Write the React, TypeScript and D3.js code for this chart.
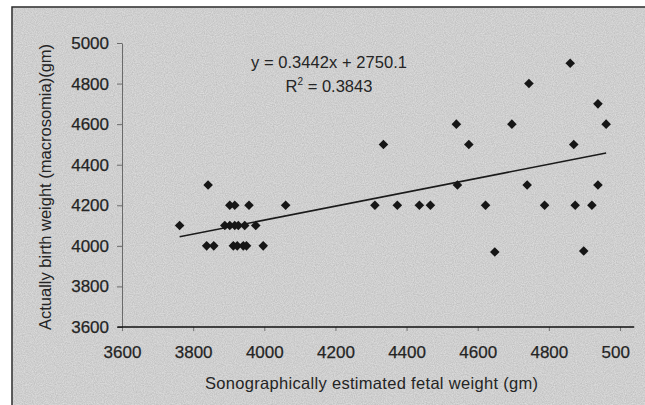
import React, { useEffect, useRef } from 'react';
import * as d3 from 'd3';

// tick values / labels as printed on the chart
const xTicks = [3600, 3800, 4000, 4200, 4400, 4600, 4800, 5000];
const xTickLabels = ['3600', '3800', '4000', '4200', '4400', '4600', '4800', '500'];
const yTicks = [3600, 3800, 4000, 4200, 4400, 4600, 4800, 5000];

const estimatedWeight = [
  3762, 3842, 3838, 3858,
  3903, 3917, 3957, 4060,
  3889, 3903, 3917, 3927, 3945, 3976,
  3913, 3924, 3941, 3950, 3997,
  4311, 4374, 4436, 4467, 4335,
  4540, 4543, 4575, 4622, 4648, 4696, 4744, 4739, 4788,
  4860, 4870, 4874, 4898, 4921, 4938, 4938, 4961,
];
const birthWeight = [
  4100, 4300, 4000, 4000,
  4200, 4200, 4200, 4200,
  4100, 4100, 4100, 4100, 4100, 4100,
  4000, 4000, 4000, 4000, 4000,
  4200, 4200, 4200, 4200, 4500,
  4600, 4300, 4500, 4200, 3970, 4600, 4800, 4300, 4200,
  4900, 4500, 4200, 3975, 4200, 4300, 4700, 4600,
];

const slope = 0.3442;
const intercept = 2750.1;
const equationText = 'y = 0.3442x + 2750.1';
const r2Value = '0.3843';

const W = 645;
const H = 405;
const font = '"Liberation Sans", Arial, sans-serif';
const ink = '#242424';

const App = () => {
  const ref = useRef<SVGSVGElement>(null);

  useEffect(() => {
    const svg = d3.select(ref.current);
    svg.selectAll('*').remove();

    const x = d3.scaleLinear().domain([3600, 5000]).range([122, 620]);
    const y = d3.scaleLinear().domain([3600, 5000]).range([327, 43]);

    // scanned grey panel with a frame
    const defs = svg.append('defs');
    const f = defs.append('filter').attr('id', 'grain').attr('x', 0).attr('y', 0).attr('width', 1).attr('height', 1);
    f.append('feTurbulence').attr('type', 'fractalNoise').attr('baseFrequency', 0.9).attr('numOctaves', 2).attr('seed', 3);
    f.append('feColorMatrix').attr('type', 'matrix')
      .attr('values', '0 0 0 0 0  0 0 0 0 0  0 0 0 0 0  0 0 0 0.18 0');
    f.append('feComposite').attr('in2', 'SourceGraphic').attr('operator', 'in');

    svg.append('rect').attr('width', W).attr('height', H).attr('fill', '#ffffff');
    svg.append('rect')
      .attr('x', 12).attr('y', 7).attr('width', W).attr('height', H)
      .attr('fill', '#e3e3e3').attr('stroke', '#2a2a2a').attr('stroke-width', 1.5);
    svg.append('rect')
      .attr('x', 13).attr('y', 8).attr('width', W).attr('height', H)
      .attr('fill', '#e3e3e3').attr('filter', 'url(#grain)');

    // y axis
    const yAxis = d3.axisLeft(y).tickValues(yTicks).tickSize(5).tickPadding(8).tickSizeOuter(0)
      .tickFormat(d3.format('d'));
    const gy = svg.append('g').attr('transform', `translate(${x(3600)},0)`).call(yAxis);
    gy.select('.domain').attr('stroke', '#6a6a6a').attr('stroke-width', 1);
    gy.selectAll('.tick line').attr('stroke', '#6a6a6a');
    gy.selectAll('.tick text')
      .attr('font-family', font).attr('font-size', 17).attr('fill', ink)
      .attr('stroke', ink).attr('stroke-width', 0.25);

    // x axis
    const xAxis = d3.axisBottom(x).tickValues(xTicks).tickSize(4).tickPadding(15).tickSizeOuter(0)
      .tickFormat((d, i) => xTickLabels[i]);
    const gx = svg.append('g').attr('transform', `translate(0,${y(3600)})`).call(xAxis);
    gx.select('.domain').remove();
    gx.selectAll('.tick line').attr('stroke', '#777');
    gx.selectAll('.tick text')
      .attr('font-family', font).attr('font-size', 17).attr('fill', ink)
      .attr('stroke', ink).attr('stroke-width', 0.25);
    // last label is cut short in the original: keep it where "5000" would start
    gx.selectAll('.tick text').filter((d, i) => i === xTicks.length - 1)
      .attr('text-anchor', 'start').attr('x', -19);
    svg.append('line')
      .attr('x1', x(3587)).attr('x2', x(5040))
      .attr('y1', y(3600)).attr('y2', y(3600))
      .attr('stroke', '#111').attr('stroke-width', 1.6);

    // axis titles
    svg.append('text')
      .attr('x', 205).attr('y', 389)
      .attr('textLength', 333).attr('lengthAdjust', 'spacing')
      .attr('font-family', font).attr('font-size', 16.5).attr('fill', ink)
      .text('Sonographically estimated fetal weight (gm)');
    svg.append('text')
      .attr('transform', 'translate(51,187) rotate(-90)').attr('text-anchor', 'middle')
      .attr('font-family', font).attr('font-size', 16.5).attr('fill', ink)
      .text('Actually birth weight (macrosomia)(gm)');

    // trend line over the range of x
    const [xmin, xmax] = d3.extent(estimatedWeight) as [number, number];
    svg.append('line')
      .attr('x1', x(xmin)).attr('y1', y(slope * xmin + intercept))
      .attr('x2', x(xmax)).attr('y2', y(slope * xmax + intercept))
      .attr('stroke', '#1a1a1a').attr('stroke-width', 1.6);

    // points
    const diamond = d3.symbol().type(d3.symbolSquare).size(46);
    svg.append('g').selectAll('path')
      .data(estimatedWeight)
      .enter()
      .append('path')
      .attr('d', diamond)
      .attr('transform', (d, i) => `translate(${x(d)},${y(birthWeight[i])}) rotate(45)`)
      .attr('fill', '#161616');

    // equation
    svg.append('text')
      .attr('x', 251).attr('y', 68)
      .attr('textLength', 156).attr('lengthAdjust', 'spacing')
      .attr('font-family', font).attr('font-size', 16.5).attr('fill', ink)
      .text(equationText);
    const r2 = svg.append('text')
      .attr('x', 329).attr('y', 92).attr('text-anchor', 'middle')
      .attr('font-family', font).attr('font-size', 16.5).attr('fill', ink);
    r2.append('tspan').text('R');
    r2.append('tspan').attr('dy', -7).attr('font-size', 10).text('2');
    r2.append('tspan').attr('dy', 7).text(` = ${r2Value}`);
  }, []);

  return (
    <svg ref={ref} width={W} height={H}
      style={{ position: 'absolute', left: 0, top: 0, display: 'block' }} />
  );
};

export default App;
